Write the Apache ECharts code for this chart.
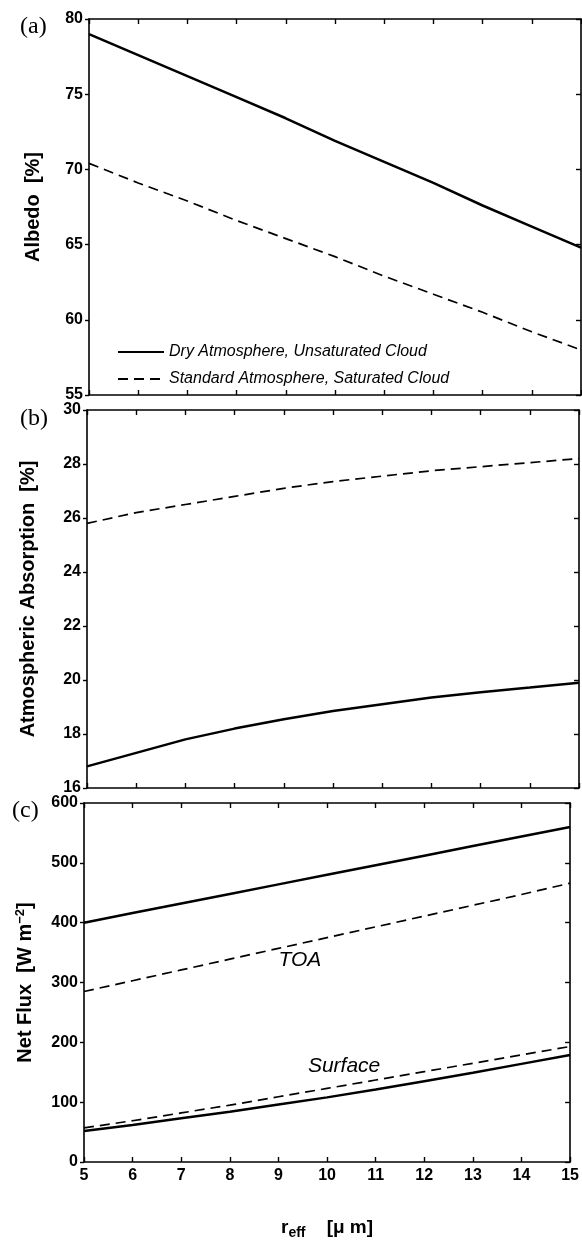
<!DOCTYPE html>
<html>
<head>
<meta charset="utf-8">
<script src="https://cdn.jsdelivr.net/npm/echarts@6/dist/echarts.min.js"></script>
<style>
html,body{margin:0;padding:0;background:#fff;}
#chart{width:582px;height:1241px;}
</style>
</head>
<body>
<div id="chart"></div>
<script>
// r_eff values (micrometres)
const reff = [5, 6, 7, 8, 9, 10, 11, 12, 13, 14, 15];
const xTicks = ['5','6','7','8','9','10','11','12','13','14','15'];

// (a) Albedo [%]
const albedoDry = [79.0, 77.6, 76.2, 74.8, 73.4, 71.9, 70.5, 69.1, 67.6, 66.2, 64.8];
const albedoStd = [70.4, 69.1, 67.9, 66.6, 65.4, 64.2, 62.9, 61.7, 60.5, 59.2, 58.0];

// (b) Atmospheric absorption [%]
const absDry = [16.8, 17.3, 17.8, 18.2, 18.55, 18.85, 19.1, 19.35, 19.55, 19.72, 19.9];
const absStd = [25.8, 26.2, 26.5, 26.8, 27.1, 27.35, 27.55, 27.75, 27.9, 28.05, 28.2];

// (c) Net flux [W m-2]
const toaDry = [400, 416, 432, 448, 464, 480, 496, 512, 528, 544, 560];
const toaStd = [285, 303, 321, 339, 357, 375, 393, 411, 429, 447, 466];
const sfcDry = [52, 62, 73, 84, 96, 108, 121, 135, 149, 164, 179];
const sfcStd = [57, 69, 82, 95, 109, 123, 137, 151, 165, 179, 193];

// curve annotations in panel (c)
const curveLabels = [
  {name: 'TOA', value: [9.44, 338]},
  {name: 'Surface', value: [10.35, 160]}
];

const legendNames = ['Dry Atmosphere, Unsaturated Cloud', 'Standard Atmosphere, Saturated Cloud'];

const SANS = '"Liberation Sans", Arial, Helvetica, sans-serif';
const SERIF = '"Liberation Serif", "Times New Roman", serif';
const BLACK = '#000';

const pair = arr => reff.map((x, i) => [x, arr[i]]);

const grids = [
  {left: 89, right: 1, top: 19, height: 376},
  {left: 87, right: 3, top: 410, height: 378},
  {left: 84, right: 5, top: 803, height: 376}
];

const yRanges = [
  {min: 55, max: 80, interval: 5, name: 'Albedo  [%]', gap: 46},
  {min: 16, max: 30, interval: 2, name: 'Atmospheric Absorption  [%]', gap: 49},
  {min: 0, max: 600, interval: 100, name: 'Net Flux  [W m{sup|−2}]', gap: 47}
];

const xAxes = [];
const yAxes = [];
grids.forEach((g, i) => {
  const last = i === 2;
  xAxes.push({
    type: 'value', gridIndex: i, position: 'bottom',
    min: 5, max: 15, interval: 1,
    axisLine: {show: true, onZero: false, lineStyle: {color: BLACK, width: 1.6}},
    axisTick: {show: true, inside: true, length: 5, lineStyle: {color: BLACK, width: 1.4}},
    axisLabel: {show: last, margin: 6, color: BLACK, fontSize: 16, fontWeight: 'bold', fontFamily: SANS,
      formatter: v => xTicks[reff.indexOf(v)] !== undefined ? xTicks[reff.indexOf(v)] : ''},
    splitLine: {show: false},
    name: last ? 'r{sub|eff}    [μ m]' : '',
    nameLocation: 'middle', nameGap: 54,
    nameTextStyle: {color: BLACK, fontSize: 19, fontWeight: 'bold', fontFamily: SANS,
      rich: {sub: {fontSize: 14, fontWeight: 'bold', fontFamily: SANS, color: BLACK, padding: [10, 0, 0, 0]}}}
  });
  xAxes.push({
    type: 'value', gridIndex: i, position: 'top',
    min: 5, max: 15, interval: 1,
    axisLine: {show: true, onZero: false, lineStyle: {color: BLACK, width: 1.6}},
    axisTick: {show: true, inside: true, length: 5, lineStyle: {color: BLACK, width: 1.4}},
    axisLabel: {show: false}, splitLine: {show: false}
  });
  const r = yRanges[i];
  yAxes.push({
    type: 'value', gridIndex: i, position: 'left',
    min: r.min, max: r.max, interval: r.interval,
    axisLine: {show: true, onZero: false, lineStyle: {color: BLACK, width: 1.6}},
    axisTick: {show: true, inside: false, length: 4, lineStyle: {color: BLACK, width: 1.4}},
    axisLabel: {show: true, margin: 6, color: BLACK, fontSize: 16, fontWeight: 'bold', fontFamily: SANS},
    splitLine: {show: false},
    name: r.name, nameLocation: 'middle', nameRotate: 90, nameGap: r.gap,
    nameTextStyle: {color: BLACK, fontSize: 20, fontWeight: 'bold', fontFamily: SANS,
      rich: {sup: {fontSize: 13, fontWeight: 'bold', fontFamily: SANS, color: BLACK, padding: [0, 0, 10, 0]}}}
  });
  yAxes.push({
    type: 'value', gridIndex: i, position: 'right',
    min: r.min, max: r.max, interval: r.interval,
    axisLine: {show: true, onZero: false, lineStyle: {color: BLACK, width: 1.6}},
    axisTick: {show: true, inside: true, length: 5, lineStyle: {color: BLACK, width: 1.4}},
    axisLabel: {show: false}, splitLine: {show: false}
  });
});

const solid = {color: BLACK, width: 2.5, type: 'solid'};
const dashed = {color: BLACK, width: 1.7, type: [10, 6]};

function lineSeries(name, data, panel, style) {
  return {
    type: 'line', name: name, data: pair(data),
    xAxisIndex: panel * 2, yAxisIndex: panel * 2,
    symbol: 'none', showSymbol: false, smooth: false,
    lineStyle: style, itemStyle: {color: BLACK},
    silent: true, animation: false
  };
}

const series = [
  lineSeries(legendNames[0], albedoDry, 0, solid),
  lineSeries(legendNames[1], albedoStd, 0, dashed),
  lineSeries('absDry', absDry, 1, solid),
  lineSeries('absStd', absStd, 1, dashed),
  lineSeries('toaDry', toaDry, 2, solid),
  lineSeries('toaStd', toaStd, 2, dashed),
  lineSeries('sfcDry', sfcDry, 2, solid),
  lineSeries('sfcStd', sfcStd, 2, dashed),
  {
    type: 'scatter', name: 'labels', xAxisIndex: 4, yAxisIndex: 4,
    data: curveLabels, symbolSize: 0, silent: true, animation: false,
    itemStyle: {color: BLACK, opacity: 1},
    label: {show: true, position: 'inside', formatter: p => p.name, opacity: 1,
      color: BLACK, fontSize: 21, fontStyle: 'italic', fontWeight: 'normal', fontFamily: SANS}
  }
];

const panelTags = [
  {text: '(a)', x: 20, y: 15},
  {text: '(b)', x: 20, y: 407},
  {text: '(c)', x: 12, y: 799}
];

const option = {
  backgroundColor: '#fff',
  animation: false,
  grid: grids.map(g => Object.assign({containLabel: false}, g)),
  xAxis: xAxes,
  yAxis: yAxes,
  legend: {
    data: legendNames,
    orient: 'vertical', left: 112, top: 339,
    itemWidth: 46, itemHeight: 14, itemGap: 11,
    selectedMode: false,
    itemStyle: {opacity: 0},
    textStyle: {color: BLACK, fontSize: 16, fontStyle: 'italic', fontFamily: SANS}
  },
  graphic: panelTags.map(t => ({
    type: 'text', left: t.x, top: t.y,
    style: {text: t.text, font: '24px ' + SERIF, fill: BLACK}
  })),
  series: series
};

const chart = echarts.init(document.getElementById('chart'), null, {renderer: 'canvas'});
chart.setOption(option);
</script>
</body>
</html>
